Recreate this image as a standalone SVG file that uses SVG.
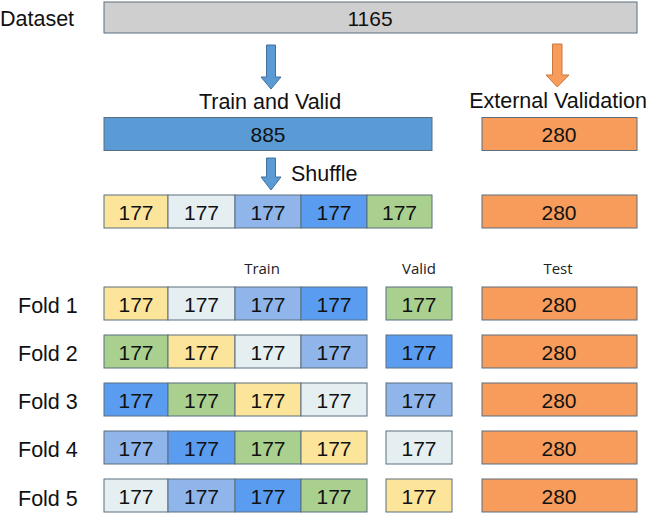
<svg xmlns="http://www.w3.org/2000/svg" width="646" height="514" viewBox="0 0 646 514">
<style>
.b{stroke:#5a6e7e;stroke-width:1}
.n{font-family:"Liberation Sans",Arial,sans-serif;font-size:21px;fill:#111;text-anchor:middle}
.l{font-family:"Liberation Sans",Arial,sans-serif;font-size:21.5px;fill:#111}
.s{font-family:"Open Sans","Noto Sans",sans-serif;font-size:15px;fill:#222;text-anchor:middle}
.gr{fill:#d0cfcf}.bl{fill:#5b9bd5}.or{fill:#f79c5b}
.Y{fill:#fde49b}.L{fill:#e5eef1}.M{fill:#8fb5ea}.B{fill:#5a9cf0}.G{fill:#a9d08e}
</style>
<rect width="646" height="514" fill="#fff"/>
<g id="dataset">
<text class="l" x="0" y="26">Dataset</text>
<rect class="b gr" x="104" y="2" width="533" height="31"/>
<text class="n" x="370" y="25.5">1165</text>
</g>
<g id="connectors">
<path d="M266.5,45 H275.5 V77 H281 L271,89 L261,77 H266.5 Z" fill="#5b9bd5" stroke="#41719c" stroke-width="1"/>
<path d="M552.5,44 H562 V75 H569 L557.3,87 L546,75 H552.5 Z" fill="#f79c5b" stroke="#c9783e" stroke-width="1"/>
<path d="M266.5,158 H275.5 V177 H281 L271,190 L261,177 H266.5 Z" fill="#5b9bd5" stroke="#41719c" stroke-width="1"/>
</g>
<g id="trainvalid">
<text class="l" x="270" y="109" text-anchor="middle">Train and Valid</text>
<rect class="b bl" x="104" y="117.5" width="328" height="33"/>
<text class="n" x="268" y="142">885</text>
</g>
<g id="external">
<text class="l" x="558" y="108" text-anchor="middle">External Validation</text>
<rect class="b or" x="482" y="117.5" width="155" height="33"/>
<text class="n" x="559" y="142">280</text>
</g>
<g id="shuffle">
<text class="l" x="291" y="181">Shuffle</text>
<rect class="b Y" x="104" y="195" width="64" height="33"/><text class="n" x="136" y="219.5">177</text>
<rect class="b L" x="168" y="195" width="67" height="33"/><text class="n" x="201.5" y="219.5">177</text>
<rect class="b M" x="235" y="195" width="66" height="33"/><text class="n" x="268" y="219.5">177</text>
<rect class="b B" x="301" y="195" width="66" height="33"/><text class="n" x="334" y="219.5">177</text>
<rect class="b G" x="367" y="195" width="65" height="33"/><text class="n" x="399.5" y="219.5">177</text>
<rect class="b or" x="482" y="195" width="155" height="33"/><text class="n" x="559" y="219.5">280</text>
</g>
<g id="headers">
<text class="s" x="262" y="274">Train</text>
<text class="s" x="419" y="274">Valid</text>
<text class="s" x="558" y="274">Test</text>
</g>
<g id="fold1">
<text class="l" x="18" y="313">Fold 1</text>
<rect class="b Y" x="104" y="287" width="64" height="33"/><text class="n" x="136" y="312">177</text>
<rect class="b L" x="168" y="287" width="67" height="33"/><text class="n" x="201.5" y="312">177</text>
<rect class="b M" x="235" y="287" width="66" height="33"/><text class="n" x="268" y="312">177</text>
<rect class="b B" x="301" y="287" width="66" height="33"/><text class="n" x="334" y="312">177</text>
<rect class="b G" x="386" y="287" width="66" height="33"/><text class="n" x="419" y="312">177</text>
<rect class="b or" x="482" y="287" width="155" height="33"/><text class="n" x="559" y="312">280</text>
</g>
<g id="fold2">
<text class="l" x="18" y="361">Fold 2</text>
<rect class="b G" x="104" y="335" width="64" height="33"/><text class="n" x="136" y="360">177</text>
<rect class="b Y" x="168" y="335" width="67" height="33"/><text class="n" x="201.5" y="360">177</text>
<rect class="b L" x="235" y="335" width="66" height="33"/><text class="n" x="268" y="360">177</text>
<rect class="b M" x="301" y="335" width="66" height="33"/><text class="n" x="334" y="360">177</text>
<rect class="b B" x="386" y="335" width="66" height="33"/><text class="n" x="419" y="360">177</text>
<rect class="b or" x="482" y="335" width="155" height="33"/><text class="n" x="559" y="360">280</text>
</g>
<g id="fold3">
<text class="l" x="18" y="409">Fold 3</text>
<rect class="b B" x="104" y="383" width="64" height="33"/><text class="n" x="136" y="408">177</text>
<rect class="b G" x="168" y="383" width="67" height="33"/><text class="n" x="201.5" y="408">177</text>
<rect class="b Y" x="235" y="383" width="66" height="33"/><text class="n" x="268" y="408">177</text>
<rect class="b L" x="301" y="383" width="66" height="33"/><text class="n" x="334" y="408">177</text>
<rect class="b M" x="386" y="383" width="66" height="33"/><text class="n" x="419" y="408">177</text>
<rect class="b or" x="482" y="383" width="155" height="33"/><text class="n" x="559" y="408">280</text>
</g>
<g id="fold4">
<text class="l" x="18" y="457">Fold 4</text>
<rect class="b M" x="104" y="431" width="64" height="33"/><text class="n" x="136" y="456">177</text>
<rect class="b B" x="168" y="431" width="67" height="33"/><text class="n" x="201.5" y="456">177</text>
<rect class="b G" x="235" y="431" width="66" height="33"/><text class="n" x="268" y="456">177</text>
<rect class="b Y" x="301" y="431" width="66" height="33"/><text class="n" x="334" y="456">177</text>
<rect class="b L" x="386" y="431" width="66" height="33"/><text class="n" x="419" y="456">177</text>
<rect class="b or" x="482" y="431" width="155" height="33"/><text class="n" x="559" y="456">280</text>
</g>
<g id="fold5">
<text class="l" x="18" y="506">Fold 5</text>
<rect class="b L" x="104" y="479" width="64" height="33"/><text class="n" x="136" y="504">177</text>
<rect class="b M" x="168" y="479" width="67" height="33"/><text class="n" x="201.5" y="504">177</text>
<rect class="b B" x="235" y="479" width="66" height="33"/><text class="n" x="268" y="504">177</text>
<rect class="b G" x="301" y="479" width="66" height="33"/><text class="n" x="334" y="504">177</text>
<rect class="b Y" x="386" y="479" width="66" height="33"/><text class="n" x="419" y="504">177</text>
<rect class="b or" x="482" y="479" width="155" height="33"/><text class="n" x="559" y="504">280</text>
</g>
</svg>
